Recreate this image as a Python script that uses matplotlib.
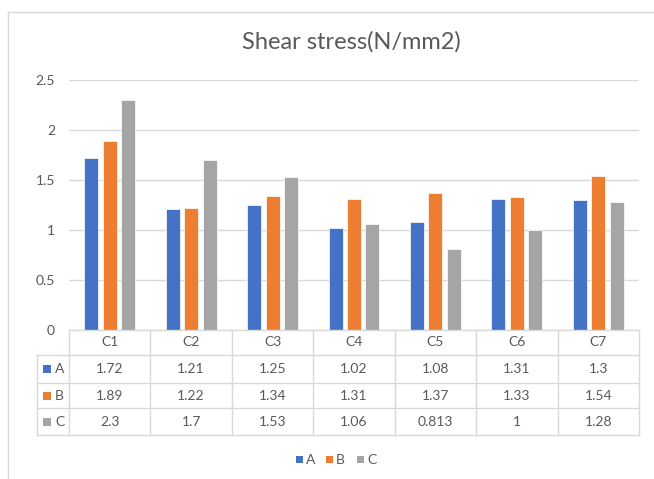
import numpy as np
import matplotlib.pyplot as plt
from matplotlib.lines import Line2D
from matplotlib.patches import Rectangle

categories = ["C1", "C2", "C3", "C4", "C5", "C6", "C7"]
series_names = ["A", "B", "C"]
values_a = [1.72, 1.21, 1.25, 1.02, 1.08, 1.31, 1.3]
values_b = [1.89, 1.22, 1.34, 1.31, 1.37, 1.33, 1.54]
values_c = [2.3, 1.7, 1.53, 1.06, 0.813, 1, 1.28]
labels_a = ["1.72", "1.21", "1.25", "1.02", "1.08", "1.31", "1.3"]
labels_b = ["1.89", "1.22", "1.34", "1.31", "1.37", "1.33", "1.54"]
labels_c = ["2.3", "1.7", "1.53", "1.06", "0.813", "1", "1.28"]
colors = ["#4472C4", "#ED7D31", "#A5A5A5"]

TXT = "#595959"
GRID = "#D9D9D9"
W, H = 654, 479

plt.rcParams['font.family'] = ['Lato', 'DejaVu Sans']

fig = plt.figure(figsize=(W / 100, H / 100), dpi=100)


def fx(x):
    return x / W


def fy(y):
    return 1 - y / H


def hline(y, x0, x1):
    fig.add_artist(Line2D([fx(x0), fx(x1)], [fy(y), fy(y)], color=GRID, lw=1))


def vline(x, y0, y1):
    fig.add_artist(Line2D([fx(x), fx(x)], [fy(y0), fy(y1)], color=GRID, lw=1))


# outer chart frame
hline(12, 8, 654)
vline(8, 12, 479)

# plot area
left, right, top, base = 69, 639, 80, 330
ax = fig.add_axes([fx(left), fy(base), fx(right - left), (base - top) / H])
ax.set_xlim(0, len(categories))
ax.set_ylim(0, 2.5)
ax.set_yticks([0, 0.5, 1, 1.5, 2, 2.5])
ax.set_yticklabels(["0", "0.5", "1", "1.5", "2", "2.5"])
ax.set_xticks([])
ax.tick_params(axis='y', length=0, pad=10, labelsize=10, labelcolor=TXT)
ax.grid(axis='y', color=GRID, lw=1)
ax.set_axisbelow(True)
for s in ax.spines.values():
    s.set_visible(False)

x = np.arange(len(categories)) + 0.5
bw = 0.172
step = 0.227
for i, vals in enumerate([values_a, values_b, values_c]):
    ax.bar(x + (i - 1) * step, vals, width=bw, color=colors[i],
           edgecolor="white", linewidth=0.5)

fig.text(fx(351), fy(42), "Shear stress(N/mm2)", ha="center", va="center",
         fontsize=17, color=TXT)

# data table below the axis
col_w = (right - left) / len(categories)
rows_y = [330, 355, 383, 408, 435]
table_left = 37
hline(rows_y[0], left, right)
for y in rows_y[1:]:
    hline(y, table_left, right)
vline(table_left, rows_y[1], rows_y[-1])
for k in range(len(categories) + 1):
    vline(left + k * col_w, rows_y[0], rows_y[-1])

for k, cat in enumerate(categories):
    cx = left + (k + 0.5) * col_w
    fig.text(fx(cx), fy((rows_y[0] + rows_y[1]) / 2), cat, ha="center",
             va="center", fontsize=10, color=TXT)

for r, (name, labels) in enumerate(zip(series_names, [labels_a, labels_b, labels_c])):
    cy = (rows_y[r + 1] + rows_y[r + 2]) / 2
    fig.add_artist(Rectangle((fx(43), fy(cy + 4)), fx(8), 8 / H,
                             color=colors[r], lw=0))
    fig.text(fx(55), fy(cy), name, ha="left", va="center", fontsize=10, color=TXT)
    for k, lab in enumerate(labels):
        cx = left + (k + 0.5) * col_w
        fig.text(fx(cx), fy(cy), lab, ha="center", va="center",
                 fontsize=10, color=TXT)

# legend
leg_x = [296, 326, 357]
for name, c, lx in zip(series_names, colors, leg_x):
    fig.add_artist(Rectangle((fx(lx), fy(463)), fx(7), 7 / H, color=c, lw=0))
    fig.text(fx(lx + 10), fy(459.5), name, ha="left", va="center",
             fontsize=10, color=TXT)

fig.savefig("out.png", dpi=100)
